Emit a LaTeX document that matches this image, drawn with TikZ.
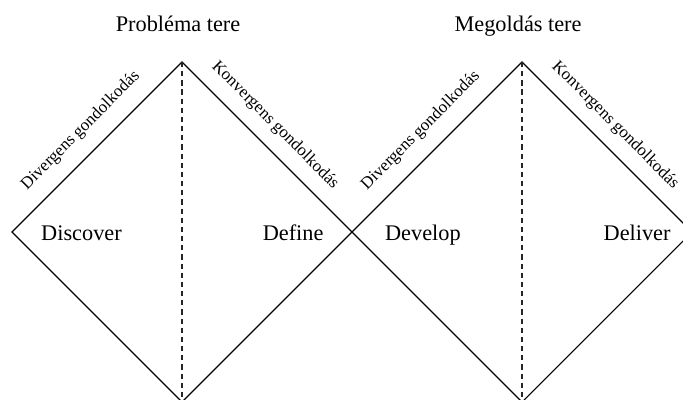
\documentclass[tikz,border=0pt]{standalone}
\usepackage{fontspec}
\setmainfont{Liberation Serif}
\usetikzlibrary{positioning}
\tikzset{
  outl/.style={draw=black, line width=0.6pt, line join=miter},
  midl/.style={draw=black!85, line width=0.6pt, dash pattern=on 2.6pt off 2pt},
  phase/.style={font=\fontsize{11.2}{13}\selectfont, anchor=base, inner sep=0pt},
  spc/.style={font=\fontsize{11.2}{13}\selectfont, anchor=base, inner sep=0pt},
  think/.style={font=\fontsize{8.5}{10}\selectfont, sloped, inner sep=1pt}
}
\begin{document}
\begin{tikzpicture}
  \useasboundingbox (-0.212,-2.947) rectangle (11.84,4.094);
  % corners of the two diamonds
  \coordinate (l1) at (0,0);
  \coordinate (t1) at (3,3);
  \coordinate (m) at (6,0);
  \coordinate (b1) at (3,-3);
  \coordinate (t2) at (9,3);
  \coordinate (r2) at (12,0);
  \coordinate (b2) at (9,-3);
  \draw[outl] (l1)--(t1)--(m)--(b1)--cycle;
  \draw[outl] (m)--(t2)--(r2)--(b2)--cycle;
  \draw[midl] (t1)--(b1);
  \draw[midl] (t2)--(b2);
  % thinking modes along the upper edges
  \path (l1) -- node[think, above=6.5pt, pos=0.5] (div1) {Divergens gondolkodás} (t1);
  \path (t1) -- node[think, above=5.5pt, pos=0.46] (kon1) {Konvergens gondolkodás} (m);
  \path (m) -- node[think, above=6.5pt, pos=0.5] (div2) {Divergens gondolkodás} (t2);
  \path (t2) -- node[think, above=5.5pt, pos=0.46] (kon2) {Konvergens gondolkodás} (r2);
  % spaces
  \node[spc] (prob) at (2.93,3.53) {Probléma tere};
  \node[spc] (megold) at (8.93,3.53) {Megoldás tere};
  % phases
  \node[phase] (disc) at (1.226,-0.154) {Discover};
  \node[phase] (defi) at (4.96,-0.154) {Define};
  \node[phase] (devel) at (7.25,-0.154) {Develop};
  \node[phase] (deliv) at (11.03,-0.154) {Deliver};
\end{tikzpicture}
\end{document}
